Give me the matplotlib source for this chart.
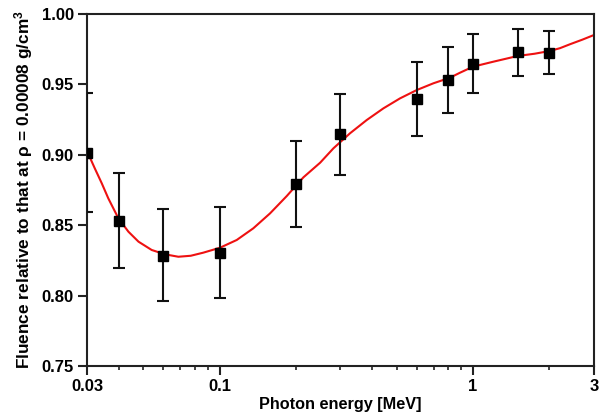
import matplotlib
matplotlib.use("Agg")
import matplotlib.pyplot as plt
from matplotlib.ticker import FixedLocator, NullFormatter, NullLocator, LogLocator

plt.rcParams['font.family'] = ['Liberation Sans', 'DejaVu Sans']
plt.rcParams['font.weight'] = 'bold'
plt.rcParams['mathtext.fontset'] = 'custom'
plt.rcParams['mathtext.rm'] = 'Liberation Sans:bold'
plt.rcParams['mathtext.bf'] = 'Liberation Sans:bold'
plt.rcParams['mathtext.default'] = 'rm'

# measured data
energy = [0.03, 0.04, 0.06, 0.1, 0.2, 0.3, 0.6, 0.8, 1.0, 1.5, 2.0]
fluence = [0.9015, 0.853, 0.828, 0.830, 0.879, 0.9145, 0.9394, 0.9531, 0.9647, 0.9728, 0.9725]
err_top = [0.944, 0.887, 0.8615, 0.8627, 0.9098, 0.9434, 0.9659, 0.9766, 0.9856, 0.9893, 0.9879]
err_bot = [0.8596, 0.8198, 0.796, 0.798, 0.8487, 0.8857, 0.9133, 0.9295, 0.9437, 0.956, 0.9574]

# fitted curve
curve_x = [0.03, 0.0304, 0.0322, 0.0343, 0.0364, 0.0399, 0.0437, 0.0479, 0.0540, 0.0610,
           0.0688, 0.0770, 0.0863, 0.1004, 0.1169, 0.1359, 0.1582, 0.1841, 0.2142, 0.2494,
           0.2813, 0.3272, 0.3807, 0.4430, 0.5153, 0.5997, 0.6977, 0.8117, 0.888, 1.0,
           1.2, 1.5, 1.75, 2.0, 2.2, 2.41, 2.7, 3.0]
curve_y = [0.9015, 0.9004, 0.8904, 0.8798, 0.8691, 0.8549, 0.8454, 0.8383, 0.8324, 0.8293,
           0.8276, 0.8283, 0.8305, 0.8340, 0.8395, 0.8478, 0.8584, 0.8707, 0.8840, 0.8944,
           0.9046, 0.9153, 0.9247, 0.9330, 0.9401, 0.9460, 0.9508, 0.9548, 0.9583, 0.9626,
           0.9661, 0.9702, 0.9718, 0.9737, 0.9757, 0.9785, 0.9818, 0.9851]

xticks = [0.03, 0.1, 1, 3]
xticklabels = ['0.03', '0.1', '1', '3']
yticks = [0.75, 0.80, 0.85, 0.90, 0.95, 1.00]
yticklabels = ['0.75', '0.80', '0.85', '0.90', '0.95', '1.00']

fig = plt.figure(figsize=(6.02, 4.16), dpi=100)
ax = fig.add_axes([0.1445, 0.1202, 0.8422, 0.8461])

ax.plot(curve_x, curve_y, color='#ee1111', lw=1.5, zorder=2)
yerr = [[f - b for f, b in zip(fluence, err_bot)], [t - f for t, f in zip(err_top, fluence)]]
ax.errorbar(energy, fluence, yerr=yerr, fmt='s', color='black', ms=7.2,
            ecolor='#111111', elinewidth=1.5, capsize=4, capthick=1.5, zorder=3)

ax.set_xscale('log')
ax.set_xlim(0.03, 3)
ax.set_ylim(0.75, 1.00)
ax.xaxis.set_major_locator(FixedLocator(xticks))
ax.set_xticklabels(xticklabels)
ax.xaxis.set_minor_locator(LogLocator(base=10, subs=range(2, 10)))
ax.xaxis.set_minor_formatter(NullFormatter())
ax.set_yticks(yticks)
ax.set_yticklabels(yticklabels)
ax.yaxis.set_minor_locator(NullLocator())

for s in ax.spines.values():
    s.set_linewidth(1.5)
    s.set_color('#222222')
ax.tick_params(which='major', direction='out', length=6.5, width=1.5, color='#222222',
               labelsize=12, pad=3, top=False, right=False)
ax.tick_params(which='minor', direction='out', length=3.2, width=1.2, color='#222222',
               top=False, right=False)

ax.set_xlabel('Photon energy [MeV]', fontsize=11.7, fontweight='bold', labelpad=2)
ax.set_ylabel('Fluence relative to that at \u03c1 = 0.00008 g/cm$^{3}$', fontsize=12.4,
              fontweight='bold', labelpad=5)

fig.savefig('out.png', dpi=100)
